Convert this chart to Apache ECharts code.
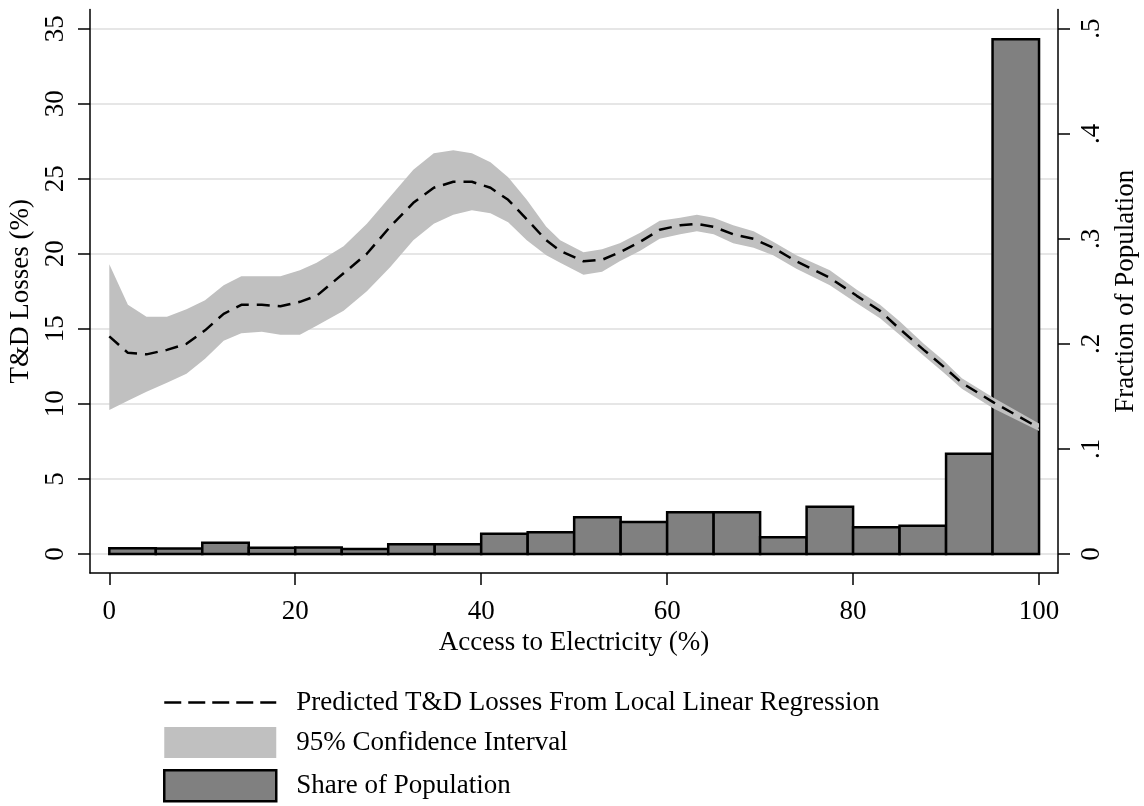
<!DOCTYPE html>
<html>
<head>
<meta charset="utf-8">
<script src="https://cdn.jsdelivr.net/npm/echarts@6/dist/echarts.min.js"></script>
<style>
  html, body { margin: 0; padding: 0; background: #fff; }
  #main { width: 1144px; height: 806px; }
</style>
</head>
<body>
<div id="main"></div>
<script>
// points where the local linear regression was evaluated (access to electricity, %)
const fitX = [0, 2, 4, 6.2, 8.3, 10.3, 12.3, 14.2, 16.4, 18.4, 20.5, 22.3, 25.2, 27.7, 30.2, 32.7, 34.9, 37, 39, 41,
  42.9, 44.9, 47, 48.5, 51, 53, 54.9, 57.1, 59.2, 61.4, 63.2, 65, 67.1, 69.3, 71.4, 73.9, 77.5, 80.4, 82.9, 85,
  87.6, 89.7, 91.7, 95.1, 100];
// predicted T&D losses (%)
const fitLoss = [14.5, 13.4, 13.3, 13.6, 14.0, 14.9, 16.0, 16.6, 16.6, 16.5, 16.8, 17.2, 18.7, 20.0, 21.8, 23.4, 24.4, 24.8, 24.8, 24.4,
  23.6, 22.3, 20.9, 20.2, 19.5, 19.6, 20.1, 20.8, 21.6, 21.9, 22.0, 21.8, 21.3, 21.0, 20.4, 19.5, 18.4, 17.2, 16.2, 15.0,
  13.6, 12.5, 11.4, 10.1, 8.4];
// 95% confidence band
const ciUpper = [19.3, 16.6, 15.8, 15.8, 16.3, 16.9, 17.9, 18.5, 18.5, 18.5, 18.9, 19.4, 20.5, 22.0, 23.8, 25.6, 26.7, 26.9, 26.7, 26.1,
  25.1, 23.6, 21.8, 20.9, 20.1, 20.3, 20.7, 21.4, 22.2, 22.4, 22.6, 22.4, 21.9, 21.5, 20.8, 19.9, 18.9, 17.6, 16.6, 15.5,
  14.0, 12.9, 11.7, 10.4, 8.7];
const ciLower = [9.6, 10.2, 10.8, 11.4, 12.0, 13.0, 14.2, 14.7, 14.8, 14.6, 14.6, 15.2, 16.2, 17.5, 19.1, 20.9, 22.0, 22.6, 22.9, 22.7,
  22.1, 20.9, 19.9, 19.4, 18.6, 18.8, 19.5, 20.2, 21.0, 21.3, 21.5, 21.3, 20.7, 20.4, 19.9, 19.0, 17.9, 16.7, 15.7, 14.6,
  13.2, 12.1, 11.0, 9.7, 8.2];

// histogram of population share, 5-point bins
const binStart = [0, 5, 10, 15, 20, 25, 30, 35, 40, 45, 50, 55, 60, 65, 70, 75, 80, 85, 90, 95];
const binEnd = [5, 10, 15, 20, 25, 30, 35, 40, 45, 50, 55, 60, 65, 70, 75, 80, 85, 90, 95, 100];
const popShare = [0.0055, 0.0052, 0.0107, 0.0059, 0.0062, 0.0046, 0.0093, 0.0093, 0.0192, 0.0207,
  0.035, 0.0303, 0.0398, 0.0398, 0.016, 0.0449, 0.0255, 0.0268, 0.0954, 0.49];

const xTicks = [0, 20, 40, 60, 80, 100];
const lossTicks = [0, 5, 10, 15, 20, 25, 30, 35];
const shareTicks = [0, 0.1, 0.2, 0.3, 0.4, 0.5];
const shareTickLabels = ['0', '.1', '.2', '.3', '.4', '.5'];

const font = "'Liberation Serif', 'Times New Roman', serif";
// the plot region runs a little past the labelled ticks on every side
const lossMin = -1.27, lossMax = 36.28;
const shareScale = 0.5 / 35;

const axisLine = { show: true, onZero: false, lineStyle: { color: '#000', width: 1.5 } };
const labelText = { fontFamily: font, fontSize: 27, color: '#000' };

const option = {
  animation: false,
  backgroundColor: '#fff',
  grid: { left: 90, right: 86, top: 9.5, bottom: 233, outerBoundsMode: 'none', containLabel: false },
  legend: {
    orient: 'vertical',
    left: 163,
    top: 689,
    padding: 0,
    itemWidth: 112,
    itemHeight: 31,
    itemGap: 11,
    selectedMode: false,
    textStyle: Object.assign({ padding: [0, 0, 0, 15] }, labelText),
    data: [
      {
        name: 'Predicted T&D Losses From Local Linear Regression',
        itemStyle: { opacity: 0 },
        lineStyle: { color: '#000', width: 2.5, type: [17, 7] }
      },
      { name: '95% Confidence Interval', icon: 'rect', itemStyle: { color: '#c0c0c0', borderWidth: 0 } },
      { name: 'Share of Population', icon: 'rect', itemStyle: { color: '#808080', borderColor: '#000', borderWidth: 2.5 } }
    ]
  },
  xAxis: {
    type: 'value',
    min: -2.076,
    max: 102.04,
    name: 'Access to Electricity (%)',
    nameLocation: 'middle',
    nameGap: 56,
    nameTextStyle: labelText,
    axisLine: axisLine,
    axisTick: { show: true, customValues: xTicks, length: 12, lineStyle: { color: '#000', width: 1.5 } },
    axisLabel: Object.assign({ customValues: xTicks, margin: 25 }, labelText),
    splitLine: { show: false }
  },
  yAxis: [
    {
      type: 'value',
      position: 'left',
      min: lossMin,
      max: lossMax,
      name: 'T&D Losses (%)',
      nameLocation: 'middle',
      nameGap: 52,
      nameTextStyle: labelText,
      axisLine: axisLine,
      axisTick: { show: true, customValues: lossTicks, length: 12, lineStyle: { color: '#000', width: 1.5 } },
      axisLabel: Object.assign({ customValues: lossTicks, rotate: 90, margin: 21 }, labelText),
      splitLine: { show: true, lineStyle: { color: '#e6e6e6', width: 2 } }
    },
    {
      type: 'value',
      position: 'right',
      min: lossMin * shareScale,
      max: lossMax * shareScale,
      name: 'Fraction of Population',
      nameLocation: 'middle',
      nameGap: 51,
      nameTextStyle: labelText,
      axisLine: axisLine,
      axisTick: { show: true, customValues: shareTicks, length: 12, lineStyle: { color: '#000', width: 1.5 } },
      axisLabel: Object.assign({
        customValues: shareTicks,
        rotate: 90,
        margin: 20,
        formatter: function (v) {
          const i = shareTicks.findIndex(t => Math.abs(t - v) < 1e-9);
          return i >= 0 ? shareTickLabels[i] : '';
        }
      }, labelText),
      splitLine: { show: false }
    }
  ],
  series: [
    {
      name: 'Share of Population',
      type: 'custom',
      yAxisIndex: 1,
      itemStyle: { color: '#808080', borderColor: '#000', borderWidth: 2.5 },
      encode: { x: [0, 1], y: 2 },
      data: binStart.map((b, i) => [b, binEnd[i], popShare[i]]),
      renderItem: function (params, api) {
        const topLeft = api.coord([api.value(0), api.value(2)]);
        const bottomRight = api.coord([api.value(1), 0]);
        return {
          type: 'rect',
          shape: {
            x: topLeft[0],
            y: topLeft[1],
            width: bottomRight[0] - topLeft[0],
            height: bottomRight[1] - topLeft[1]
          },
          style: { fill: '#808080', stroke: '#000', lineWidth: 2.5 }
        };
      }
    },
    {
      name: '95% Confidence Interval',
      type: 'custom',
      itemStyle: { color: '#c0c0c0' },
      encode: { x: 0, y: [1, 2] },
      data: fitX.map((x, i) => [x, ciLower[i], ciUpper[i]]),
      renderItem: function (params, api) {
        // whole band is one polygon, drawn once
        if (params.dataIndex !== 0) return;
        const pts = [];
        for (let i = 0; i < fitX.length; i++) pts.push(api.coord([fitX[i], ciUpper[i]]));
        for (let i = fitX.length - 1; i >= 0; i--) pts.push(api.coord([fitX[i], ciLower[i]]));
        return { type: 'polygon', shape: { points: pts }, style: { fill: '#c0c0c0' } };
      }
    },
    {
      name: 'Predicted T&D Losses From Local Linear Regression',
      type: 'line',
      symbol: 'none',
      itemStyle: { color: '#000' },
      lineStyle: { color: '#000', width: 2.5, type: [13, 8] },
      data: fitX.map((x, i) => [x, fitLoss[i]])
    }
  ]
};

const myChart = echarts.init(document.getElementById('main'));
myChart.setOption(option);
</script>
</body>
</html>
